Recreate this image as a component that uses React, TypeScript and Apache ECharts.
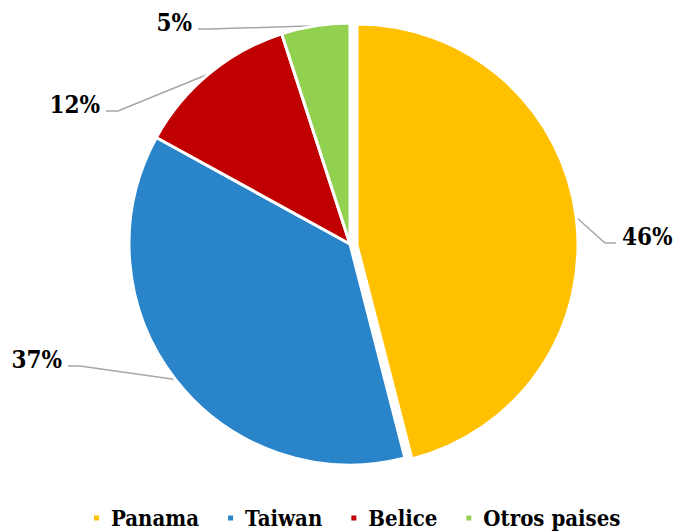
import React, { useEffect, useRef } from "react";
import * as echarts from "echarts";

const categories = ["Panama", "Taiwan", "Belice", "Otros paises"];
const values = [46, 37, 12, 5];
const colors = ["#FFC000", "#2A84C9", "#C00000", "#92D050"];

// label placement (text anchor points), layout only
const labelSpots = [
  { x: 622, y: 236, side: 1 },
  { x: 62, y: 359, side: -1 },
  { x: 100, y: 104, side: -1 },
  { x: 192, y: 22, side: -1 },
];

const CX = 350;
const CY = 244;
const R = 221;
const EXPLODE = [7, 1];
const FONT = "'DejaVu Serif Condensed', 'DejaVu Serif', serif";

export default function App() {
  const ref = useRef<HTMLDivElement>(null);
  useEffect(() => {
    if (!ref.current) return;
    const chart = echarts.init(ref.current, undefined, { renderer: "svg" });
    const total = values.reduce((a, b) => a + b, 0);
    const fallbackStart = (i: number) => {
      let acc = 0;
      for (let k = 0; k < i; k++) acc += values[k];
      const mid = ((acc + values[i] / 2) / total) * Math.PI * 2;
      const off = i === 0 ? EXPLODE : [0, 0];
      return [CX + off[0] + R * Math.sin(mid), CY + off[1] - R * Math.cos(mid)];
    };
    const makeLayout = (mapIndex: (p: any) => number) => (params: any) => {
      const i = mapIndex(params);
      const s = labelSpots[i];
      if (!s) return {};
      const start =
        params.labelLinePoints && params.labelLinePoints[0]
          ? params.labelLinePoints[0]
          : fallbackStart(i);
      const endX = s.side > 0 ? s.x - 6 : s.x + 6;
      const endY = s.y + 7;
      const elbowX = s.side > 0 ? endX - 11 : endX + 12;
      return {
        x: s.x,
        y: s.y,
        align: s.side > 0 ? "left" : "right",
        verticalAlign: "middle",
        labelLinePoints: [start, [elbowX, endY], [endX, endY]],
      };
    };
    const label = {
      show: true,
      position: "outside",
      formatter: "{d}%",
      fontFamily: FONT,
      fontWeight: "bold",
      fontSize: 24,
      color: "#000",
    };
    const labelLine = {
      show: true,
      length: 10,
      length2: 10,
      lineStyle: { color: "#A6A6A6", width: 1.5 },
    };
    const rest = total - values[0];
    chart.setOption({
      animation: false,
      backgroundColor: "#ffffff",
      legend: {
        data: categories,
        top: 507,
        left: 92,
        padding: 0,
        icon: "rect",
        itemWidth: 7,
        itemHeight: 7,
        itemGap: 27,
        selectedMode: false,
        textStyle: {
          fontFamily: FONT,
          fontWeight: "bold",
          fontSize: 22,
          color: "#000",
          padding: [0, 0, 0, 6],
        },
      },
      series: [
        {
          // exploded Panama slice
          type: "pie",
          center: [CX + EXPLODE[0], CY + EXPLODE[1]],
          radius: R,
          startAngle: 90,
          clockwise: true,
          silent: true,
          percentPrecision: 0,
          itemStyle: { borderColor: "#ffffff", borderWidth: 3 },
          emphasis: { disabled: true },
          label,
          labelLine,
          labelLayout: makeLayout(() => 0),
          data: [
            { name: categories[0], value: values[0], itemStyle: { color: colors[0] } },
            {
              name: "",
              value: rest,
              itemStyle: { color: "transparent", borderWidth: 0 },
              label: { show: false },
              labelLine: { show: false },
            },
          ],
        },
        {
          type: "pie",
          center: [CX, CY],
          radius: R,
          startAngle: 90,
          clockwise: true,
          silent: true,
          percentPrecision: 0,
          itemStyle: { borderColor: "#ffffff", borderWidth: 3 },
          emphasis: { disabled: true },
          label,
          labelLine,
          labelLayout: makeLayout((p: any) => p.dataIndex),
          data: categories.map((name, i) =>
            i === 0
              ? {
                  name,
                  value: values[i],
                  itemStyle: { color: "transparent", borderWidth: 0 },
                  label: { show: false },
                  labelLine: { show: false },
                }
              : { name, value: values[i], itemStyle: { color: colors[i] } }
          ),
        },
      ],
    });
    return () => chart.dispose();
  }, []);
  return (
    <div
      ref={ref}
      style={{ position: "absolute", left: 0, top: 0, width: 673, height: 531 }}
    />
  );
}
